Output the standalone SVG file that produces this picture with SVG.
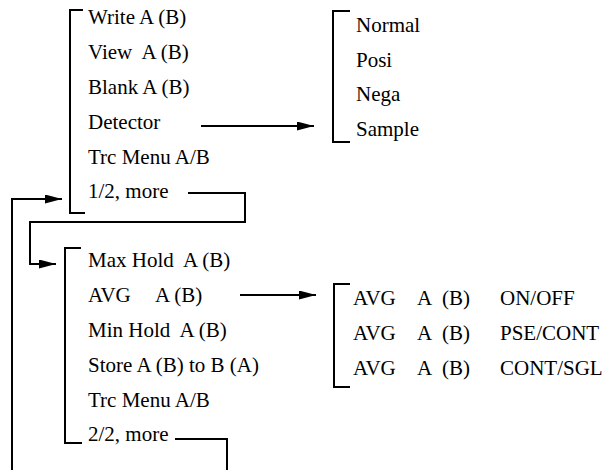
<svg xmlns="http://www.w3.org/2000/svg" width="607" height="470" viewBox="0 0 607 470">
<style>
text{font-family:'Liberation Serif','Times New Roman',serif;font-size:21px;fill:#000}
.br,.ln{fill:none;stroke:#000;stroke-width:2}
</style>
<defs>
<marker id="ah" markerWidth="17" markerHeight="9" refX="17" refY="4.5" orient="auto" markerUnits="userSpaceOnUse">
<path d="M0,0 L17,4.5 L0,9 Z" fill="#000"/>
</marker>
</defs>
<rect width="607" height="470" fill="#fff"/>
<g id="menu1">
<path class="br" d="M83,10 H70 V213 H85"/>
<text x="88" y="24">Write A (B)</text>
<text x="88" y="59" xml:space="preserve">View  A (B)</text>
<text x="88" y="94">Blank A (B)</text>
<text x="88" y="129">Detector</text>
<text x="88" y="164">Trc Menu A/B</text>
<text x="88" y="198">1/2, more</text>
</g>
<g id="detectorMenu">
<path class="br" d="M350,11 H333 V142 H350"/>
<text x="356" y="32">Normal</text>
<text x="356" y="67">Posi</text>
<text x="356" y="101">Nega</text>
<text x="356" y="136">Sample</text>
</g>
<g id="menu2">
<path class="br" d="M81,248 H65 V443 H82"/>
<text x="88" y="267" xml:space="preserve">Max Hold  A (B)</text>
<text x="88" y="302">AVG<tspan x="155">A (B)</tspan></text>
<text x="88" y="337" xml:space="preserve">Min Hold  A (B)</text>
<text x="88" y="372">Store A (B) to B (A)</text>
<text x="88" y="407">Trc Menu A/B</text>
<text x="88" y="441">2/2, more</text>
</g>
<g id="avgMenu">
<path class="br" d="M350,284 H334 V387 H350"/>
<text x="353" y="305">AVG<tspan x="417">A</tspan><tspan x="442">(B)</tspan><tspan x="500">ON/OFF</tspan></text>
<text x="353" y="340">AVG<tspan x="417">A</tspan><tspan x="442">(B)</tspan><tspan x="500">PSE/CONT</tspan></text>
<text x="353" y="375">AVG<tspan x="417">A</tspan><tspan x="442">(B)</tspan><tspan x="500">CONT/SGL</tspan></text>
</g>
<g id="connectors">
<path class="ln" d="M201,126 H314" marker-end="url(#ah)"/>
<path class="ln" d="M240,295 H316" marker-end="url(#ah)"/>
<path class="ln" d="M188,193 H245 V222 H30 V264 H56" marker-end="url(#ah)"/>
<path class="ln" d="M175,439 H227 V480 H12 V199 H62" marker-end="url(#ah)"/>
</g>
</svg>
